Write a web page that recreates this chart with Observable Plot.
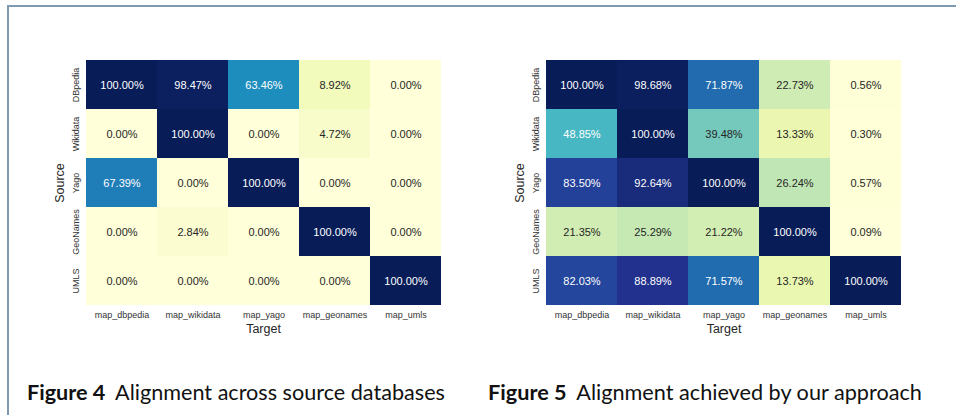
<!DOCTYPE html>
<html>
<head>
<meta charset="utf-8">
<script src="https://cdn.jsdelivr.net/npm/d3@7"></script>
<script src="https://cdn.jsdelivr.net/npm/@observablehq/plot@0.6"></script>
<style>
html, body { margin: 0; padding: 0; background: #fff; }
#wrap { position: relative; width: 956px; height: 415px; overflow: hidden; background: #fff; }
.panel { position: absolute; top: 0; }
#bTop { position: absolute; left: 7px; top: 5px; width: 949px; height: 2px; background: #7f99b0; }
#bLeft { position: absolute; left: 7px; top: 5px; width: 2px; height: 410px; background: #7f99b0; }
#caps { position: absolute; left: 0; top: 0; }
</style>
</head>
<body>
<div id="wrap">
  <div id="bTop"></div>
  <div id="bLeft"></div>
  <div id="p4" class="panel" style="left:0px"></div>
  <div id="p5" class="panel" style="left:478px"></div>
  <svg id="caps" width="956" height="415"></svg>
</div>
<script>
// ---- data ----
const sources = ["DBpedia", "Wikidata", "Yago", "GeoNames", "UMLS"];
const targets = ["map_dbpedia", "map_wikidata", "map_yago", "map_geonames", "map_umls"];
const fig4Values = [
  [100.00, 98.47, 63.46, 8.92, 0.00],
  [0.00, 100.00, 0.00, 4.72, 0.00],
  [67.39, 0.00, 100.00, 0.00, 0.00],
  [0.00, 2.84, 0.00, 100.00, 0.00],
  [0.00, 0.00, 0.00, 0.00, 100.00]
];
const fig5Values = [
  [100.00, 98.68, 71.87, 22.73, 0.56],
  [48.85, 100.00, 39.48, 13.33, 0.30],
  [83.50, 92.64, 100.00, 26.24, 0.57],
  [21.35, 25.29, 21.22, 100.00, 0.09],
  [82.03, 88.89, 71.57, 13.73, 100.00]
];
const xLabel = "Target";
const yLabel = "Source";
const caption4 = ["Figure 4", "Alignment across source databases"];
const caption5 = ["Figure 5", "Alignment achieved by our approach"];

// matplotlib YlGnBu (ColorBrewer 9-class, piecewise linear)
const ylgnbu = ["#ffffd9", "#edf8b1", "#c7e9b4", "#7fcdbb", "#41b6c4", "#1d91c0", "#225ea8", "#253494", "#081d58"];
const interp = d3.piecewise(d3.interpolateRgb, ylgnbu);

function luminance(c) {
  const rgb = d3.rgb(c);
  const f = v => { v /= 255; return v <= 0.03928 ? v / 12.92 : Math.pow((v + 0.055) / 1.055, 2.4); };
  return 0.2126 * f(rgb.r) + 0.7152 * f(rgb.g) + 0.0722 * f(rgb.b);
}

function heatmap(values, marginLeft, marginRight) {
  const data = [];
  sources.forEach((s, i) => targets.forEach((t, j) => data.push({source: s, target: t, value: values[i][j]})));
  const lo = d3.min(data, d => d.value), hi = d3.max(data, d => d.value);
  const isDark = d => luminance(interp((d.value - lo) / (hi - lo))) < 0.408;
  const font = "'Liberation Sans', Arial, sans-serif";
  const txt = d => d.value.toFixed(2) + "%";
  return Plot.plot({
    width: 478, height: 340,
    marginTop: 60, marginBottom: 35, marginLeft, marginRight,
    style: {fontFamily: font, background: "transparent"},
    x: {domain: targets, padding: 0, label: null},
    y: {domain: sources, padding: 0, label: null},
    color: {type: "linear", domain: [lo, hi], interpolate: interp},
    marks: [
      Plot.cell(data, {x: "target", y: "source", fill: "value"}),
      Plot.text(data, {filter: isDark, x: "target", y: "source", text: txt, fill: "white", fontSize: 11}),
      Plot.text(data, {filter: d => !isDark(d), x: "target", y: "source", text: txt, fill: "#262626", fontSize: 11}),
      Plot.axisX({tickSize: 0, tickPadding: 6, fontSize: 9, fill: "#333", label: null}),
      Plot.axisY({tickSize: 0, tickRotate: -90, tickPadding: 6, fontSize: 9, fill: "#333", label: null}),
      Plot.text([xLabel], {frameAnchor: "bottom", dy: 23, fontSize: 12.5, fill: "#262626", lineAnchor: "middle"}),
      Plot.text([yLabel], {frameAnchor: "left", dx: -24.5, rotate: -90, fontSize: 12.5, fill: "#262626", lineAnchor: "middle", textAnchor: "middle"})
    ]
  });
}

document.getElementById("p4").append(heatmap(fig4Values, 84, 36));
document.getElementById("p5").append(heatmap(fig5Values, 66, 53));

// captions
const NS = "http://www.w3.org/2000/svg";
const caps = document.getElementById("caps");
function caption(parts, x, width) {
  const gap = 0.45;
  const t = document.createElementNS(NS, "text");
  t.setAttribute("x", x);
  t.setAttribute("y", 400);
  t.setAttribute("font-family", "Lato, 'Open Sans', sans-serif");
  t.setAttribute("font-size", 18);
  t.setAttribute("fill", "#111");
  const a = document.createElementNS(NS, "tspan");
  a.setAttribute("font-weight", "bold");
  a.textContent = parts[0];
  const b = document.createElementNS(NS, "tspan");
  b.setAttribute("dx", gap + "em");
  b.textContent = parts[1];
  t.append(a, b);
  caps.append(t);
  const w = t.getComputedTextLength() + gap * 18;
  t.setAttribute("font-size", (18 * width / w).toFixed(2));
}
caption(caption4, 27, 418);
caption(caption5, 488, 434);
</script>
</body>
</html>
